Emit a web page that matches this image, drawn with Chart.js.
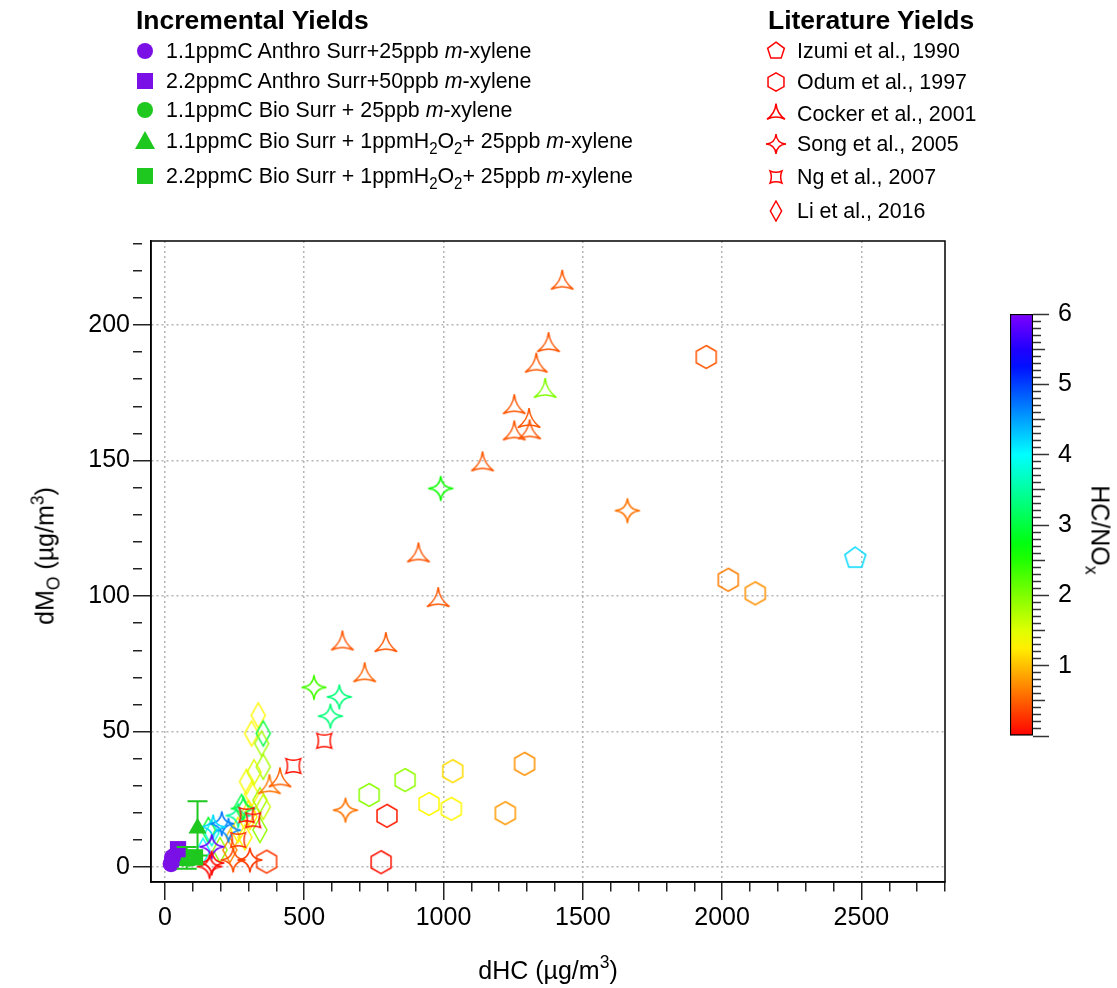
<!DOCTYPE html>
<html>
<head>
<meta charset="utf-8">
<script src="https://cdn.jsdelivr.net/npm/chart.js@4.4.1/dist/chart.umd.min.js"></script>
<style>
  body { margin: 0; width: 1117px; height: 988px; position: relative; overflow: hidden; background: #fff;
         font-family: "Liberation Sans", Arial, Helvetica, sans-serif; color: #000; }
  #main { position: absolute; left: 0; top: 0; }
  #cbar { position: absolute; left: 990px; top: 290px; }
  .lg { position: absolute; white-space: nowrap; font-size: 22.5px; height: 26px; line-height: 26px; }
  .lg canvas { position: absolute; top: 2px; left: 0; }
  .lg span { display: inline-block; margin-left: 32px; transform: scaleX(0.95); transform-origin: 0 50%; }
  .hd { position: absolute; white-space: nowrap; font-size: 26.5px; font-weight: bold; }
  sub { font-size: 0.7em; vertical-align: -0.35em; line-height: 0; }
  sup { font-size: 0.7em; vertical-align: 0.6em; line-height: 0; }
  .ttl { position: absolute; white-space: nowrap; font-size: 25px; }
</style>
</head>
<body>
<canvas id="main" width="1117" height="988"></canvas>
<canvas id="cbar" width="127" height="470"></canvas>

<div class="hd" style="left:136px; top:5px;">Incremental Yields</div>
<div class="lg" style="left:134px; top:38px;"><canvas data-sym="circle" data-col="#7a10e6" width="22" height="22"></canvas><span>1.1ppmC Anthro Surr+25ppb <i>m</i>-xylene</span></div>
<div class="lg" style="left:134px; top:68px;"><canvas data-sym="rect" data-col="#7a10e6" width="22" height="22"></canvas><span>2.2ppmC Anthro Surr+50ppb <i>m</i>-xylene</span></div>
<div class="lg" style="left:134px; top:97px;"><canvas data-sym="circle" data-col="#1ec81e" width="22" height="22"></canvas><span>1.1ppmC Bio Surr + 25ppb <i>m</i>-xylene</span></div>
<div class="lg" style="left:134px; top:128px;"><canvas data-sym="triangle" data-col="#1ec81e" width="22" height="22"></canvas><span>1.1ppmC Bio Surr + 1ppmH<sub>2</sub>O<sub>2</sub>+ 25ppb <i>m</i>-xylene</span></div>
<div class="lg" style="left:134px; top:163px;"><canvas data-sym="rect" data-col="#1ec81e" width="22" height="22"></canvas><span>2.2ppmC Bio Surr + 1ppmH<sub>2</sub>O<sub>2</sub>+ 25ppb <i>m</i>-xylene</span></div>

<div class="hd" style="left:768px; top:5px;">Literature Yields</div>
<div class="lg" style="left:765px; top:38px;"><canvas data-sym="pentagon" width="22" height="22"></canvas><span>Izumi et al., 1990</span></div>
<div class="lg" style="left:765px; top:69px;"><canvas data-sym="hexagon" width="22" height="22"></canvas><span>Odum et al., 1997</span></div>
<div class="lg" style="left:765px; top:101px;"><canvas data-sym="tristar" width="22" height="22"></canvas><span>Cocker et al., 2001</span></div>
<div class="lg" style="left:765px; top:131px;"><canvas data-sym="star4" width="22" height="22"></canvas><span>Song et al., 2005</span></div>
<div class="lg" style="left:765px; top:164px;"><canvas data-sym="cquad" width="22" height="22"></canvas><span>Ng et al., 2007</span></div>
<div class="lg" style="left:765px; top:198px;"><canvas data-sym="diamond" width="22" height="22"></canvas><span>Li et al., 2016</span></div>

<div class="ttl" id="ytitle" style="left:45px; top:556px; transform: translate(-50%,-50%) rotate(-90deg);">dM<sub>O</sub> (µg/m<sup>3</sup>)</div>
<div class="ttl" id="xtitle" style="left:548px; top:970px; transform: translate(-50%,-50%);">dHC (µg/m<sup>3</sup>)</div>
<div class="ttl" id="ctitle" style="left:1100px; top:530px; transform: translate(-50%,-50%) rotate(90deg);">HC/NO<sub>x</sub></div>

<script>
const FONT = '"Liberation Sans", Arial, Helvetica, sans-serif';

// ---- incremental yields (filled symbols) ----
const anthro11X = [22, 27];
const anthro11Y = [1.2, 3.6];
const anthro22X = [47];
const anthro22Y = [6.6];
const bio11X = [65, 88];
const bio11Y = [3.4, 3.3];
const bio11hX = [117];
const bio11hY = [14.3];
const bio11hErr = [10];
const bio22hX = [78, 108];
const bio22hY = [3.4, 3.6];
const bio22hErr = [4, 0];

// ---- literature yields (open symbols, colour = HC/NOx) ----
const izumiX = [2478];
const izumiY = [114];
const izumiR = [4.2];

const odumX = [1943, 2022, 2119, 1291, 1033, 862, 733, 948, 1028, 1222, 797, 776, 365];
const odumY = [188.2, 106, 101, 38.1, 35.4, 32.1, 26.6, 23.3, 21.5, 19.9, 18.9, 1.8, 2.0];
const odumR = [0.45, 0.65, 0.75, 0.75, 1.15, 1.9, 1.95, 1.3, 1.3, 0.8, 0.15, 0.1, 0.3];

const cockerX = [1426, 1377, 1333, 1365, 1254, 1307, 1309, 1254, 1140, 910, 981, 637, 793, 717, 413, 375];
const cockerY = [215.6, 192.6, 185, 175.7, 169.7, 164.6, 160.4, 160, 148.6, 115, 98.5, 82.5, 81.9, 70.8, 32, 29.5];
const cockerR = [0.45, 0.45, 0.45, 2.0, 0.45, 0.45, 0.45, 0.45, 0.45, 0.45, 0.45, 0.45, 0.45, 0.5, 0.5, 0.6];

const songX = [1660, 990, 535, 626, 594, 648, 204, 228, 173, 168, 168, 160, 245, 305, 263, 281];
const songY = [131.5, 139.7, 66.3, 62.8, 55.7, 21, 16, 13.6, 14.8, 7.5, 1.5, 0.2, 2.6, 2.6, 19, 21.6];
const songR = [0.6, 2.6, 2.3, 3.3, 3.3, 0.6, 4.7, 4.6, 4.2, 5.9, 0.05, 0.05, 0.4, 0.3, 3.5, 3.0];

const ngX = [572, 461, 293, 317, 263];
const ngY = [46.6, 37.3, 19.2, 17.3, 10];
const ngR = [0.1, 0.1, 0.1, 0.1, 0.3];

const liX = [335, 311, 353, 347, 353, 293, 311, 341, 353, 275, 305, 341, 156, 168, 245, 198, 233, 262, 287, 137, 320, 300];
const liY = [56, 49.3, 49.3, 45.6, 37, 31.5, 27, 24.7, 22.2, 22.2, 18.5, 13.7, 13.7, 12.5, 11.2, 6.3, 6.3, 13.7, 11, 6, 35, 20];
const liR = [1.3, 1.3, 3.0, 1.8, 1.8, 1.4, 1.3, 1.8, 1.6, 3.0, 1.3, 1.9, 2.8, 3.8, 1.0, 1.9, 0.7, 1.3, 1.3, 4.0, 1.5, 1.2];

// ---- axes / colour scale ----
const xMin = -50, xMax = 2800, xMajor = 500, xMinor = 100;
const yMin = -5.5, yMax = 231, yMajor = 50, yMinor = 10;
const cMin = 0, cMax = 6;

function hcColor(v) {
  const t = Math.max(0, Math.min(1, (v - cMin) / (cMax - cMin)));
  return 'hsl(' + (t * 270).toFixed(1) + ',100%,50%)';
}

const SIZES = { hexagon: 11.5, pentagon: 11, tristar: 13, star4: 12.5, cquad: 10.5, diamond: 12.5 };

function shapePath(ctx, shape, r) {
  ctx.beginPath();
  if (shape === 'hexagon' || shape === 'pentagon') {
    const n = shape === 'hexagon' ? 6 : 5;
    for (let i = 0; i < n; i++) {
      const a = -Math.PI / 2 + i * 2 * Math.PI / n;
      if (i) ctx.lineTo(r * Math.cos(a), r * Math.sin(a));
      else ctx.moveTo(r * Math.cos(a), r * Math.sin(a));
    }
  } else if (shape === 'diamond') {
    ctx.moveTo(0, -r); ctx.lineTo(r * 0.56, 0); ctx.lineTo(0, r); ctx.lineTo(-r * 0.56, 0);
  } else {
    const n = shape === 'tristar' ? 3 : 4;
    const a0 = shape === 'cquad' ? -Math.PI / 4 : -Math.PI / 2;
    const k = shape === 'tristar' ? 0.1 : (shape === 'star4' ? 0.1 : 0.4);
    for (let i = 0; i < n; i++) {
      const a = a0 + i * 2 * Math.PI / n, b = a + Math.PI / n, c = a + 2 * Math.PI / n;
      if (i === 0) ctx.moveTo(r * Math.cos(a), r * Math.sin(a));
      ctx.quadraticCurveTo(k * r * Math.cos(b), k * r * Math.sin(b), r * Math.cos(c), r * Math.sin(c));
    }
  }
  ctx.closePath();
}

const glyphCache = {};
function glyph(shape, color, scale) {
  scale = scale || 1;
  const key = shape + color + scale;
  if (glyphCache[key]) return glyphCache[key];
  const r = SIZES[shape] * scale;
  const s = Math.ceil(r + 3) * 2;
  const cv = document.createElement('canvas');
  cv.width = s; cv.height = s;
  const c = cv.getContext('2d');
  c.translate(s / 2, s / 2);
  shapePath(c, shape, r);
  c.strokeStyle = color;
  c.lineWidth = 1.5;
  c.stroke();
  glyphCache[key] = cv;
  return cv;
}

function pts(xs, ys) { return xs.map((x, i) => ({ x: x, y: ys[i] })); }

function openSeries(label, shape, xs, ys, rs) {
  return {
    label: label, data: pts(xs, ys), pointRadius: 10,
    pointStyle: ctx => glyph(shape, hcColor(rs[ctx.dataIndex])),
    borderColor: 'rgba(0,0,0,0)', backgroundColor: 'rgba(0,0,0,0)'
  };
}

function filledSeries(label, style, radius, color, xs, ys, errs) {
  return {
    label: label, data: pts(xs, ys), pointStyle: style, pointRadius: radius,
    backgroundColor: color, borderColor: color, borderWidth: 0, errY: errs
  };
}

const datasets = [
  filledSeries('1.1ppmC Anthro Surr+25ppb m-xylene', 'circle', 8.5, '#7a10e6', anthro11X, anthro11Y),
  filledSeries('2.2ppmC Anthro Surr+50ppb m-xylene', 'rect', 11.5, '#7a10e6', anthro22X, anthro22Y),
  filledSeries('1.1ppmC Bio Surr + 25ppb m-xylene', 'circle', 8.5, '#1ec81e', bio11X, bio11Y),
  filledSeries('1.1ppmC Bio Surr + 1ppmH2O2+ 25ppb m-xylene', 'triangle', 10.5, '#1ec81e', bio11hX, bio11hY, bio11hErr),
  filledSeries('2.2ppmC Bio Surr + 1ppmH2O2+ 25ppb m-xylene', 'rect', 11.5, '#1ec81e', bio22hX, bio22hY, bio22hErr),
  openSeries('Izumi et al., 1990', 'pentagon', izumiX, izumiY, izumiR),
  openSeries('Ng et al., 2007', 'cquad', ngX, ngY, ngR),
  openSeries('Song et al., 2005', 'star4', songX, songY, songR),
  openSeries('Cocker et al., 2001', 'tristar', cockerX, cockerY, cockerR),
  openSeries('Odum et al., 1997', 'hexagon', odumX, odumY, odumR),
  openSeries('Li et al., 2016', 'diamond', liX, liY, liR)
];

const errorBars = {
  id: 'errorBars',
  afterDatasetsDraw(chart) {
    const { ctx, scales: { x, y } } = chart;
    chart.data.datasets.forEach(ds => {
      if (!ds.errY) return;
      ctx.save();
      ctx.strokeStyle = ds.backgroundColor;
      ctx.lineWidth = 2;
      ds.data.forEach((p, i) => {
        const e = ds.errY[i];
        if (!e) return;
        const px = x.getPixelForValue(p.x);
        const top = y.getPixelForValue(p.y + e), bot = y.getPixelForValue(p.y - e);
        ctx.beginPath();
        ctx.moveTo(px, top); ctx.lineTo(px, bot);
        ctx.moveTo(px - 10, top); ctx.lineTo(px + 10, top);
        ctx.moveTo(px - 10, bot); ctx.lineTo(px + 10, bot);
        ctx.stroke();
      });
      ctx.restore();
    });
  }
};

const frame = {
  id: 'frame',
  afterDraw(chart) {
    const { ctx, chartArea: a } = chart;
    ctx.save();
    ctx.strokeStyle = '#000';
    ctx.lineWidth = 1.5;
    ctx.strokeRect(a.left, a.top, a.right - a.left, a.bottom - a.top);
    ctx.restore();
  }
};

const isMult = (v, m) => Math.abs(v / m - Math.round(v / m)) < 1e-6;

new Chart(document.getElementById('main'), {
  type: 'scatter',
  data: { datasets: datasets },
  options: {
    responsive: false,
    animation: false,
    layout: { padding: { left: 0, top: 241, right: 172, bottom: 46 } },
    plugins: { legend: { display: false }, tooltip: { enabled: false } },
    scales: {
      x: {
        type: 'linear', min: xMin, max: xMax,
        afterFit: s => { s.height = 60; },
        ticks: {
          stepSize: xMinor, autoSkip: false, includeBounds: false, maxRotation: 0, minRotation: 0,
          padding: 3, color: '#000', font: { family: FONT, size: 25 },
          callback: v => isMult(v, xMajor) ? String(v) : ''
        },
        grid: {
          color: ctx => (ctx.tick && isMult(ctx.tick.value, xMajor)) ? '#b4b4b4' : 'rgba(0,0,0,0)',
          lineWidth: 1.5, tickLength: 18, tickColor: '#222', tickWidth: 1.5,
          tickBorderDash: ctx => (ctx.tick && isMult(ctx.tick.value, xMajor)) ? [40, 0] : [9, 60]
        },
        border: { display: true, color: '#000', width: 1.5, dash: [2, 3] }
      },
      y: {
        type: 'linear', min: yMin, max: yMax,
        afterFit: s => { s.width = 151; },
        ticks: {
          stepSize: yMinor, autoSkip: false, includeBounds: false,
          padding: 3, color: '#000', font: { family: FONT, size: 25 },
          callback: v => isMult(v, yMajor) ? String(v) : ''
        },
        grid: {
          color: ctx => (ctx.tick && isMult(ctx.tick.value, yMajor)) ? '#b4b4b4' : 'rgba(0,0,0,0)',
          lineWidth: 1.5, tickLength: 18, tickColor: '#222', tickWidth: 1.5,
          tickBorderDash: ctx => (ctx.tick && isMult(ctx.tick.value, yMajor)) ? [40, 0] : [9, 60]
        },
        border: { display: true, color: '#000', width: 1.5, dash: [2, 3] }
      }
    }
  },
  plugins: [errorBars, frame]
});

// ---- colour bar ----
function barGradient(chart) {
  const y = chart.scales && chart.scales.y;
  if (!y || !chart.chartArea) return '#888';
  const p0 = y.getPixelForValue(cMin), p1 = y.getPixelForValue(cMax);
  if (!isFinite(p0) || !isFinite(p1) || p0 === p1) return '#888';
  const g = chart.ctx.createLinearGradient(0, p0, 0, p1);
  for (let i = 0; i <= 24; i++) {
    const v = cMin + (cMax - cMin) * i / 24;
    g.addColorStop(i / 24, hcColor(v));
  }
  return g;
}

const cbar = new Chart(document.getElementById('cbar'), {
  type: 'bar',
  data: {
    labels: ['HC/NOx'],
    datasets: [{
      data: [[cMin, cMax]],
      backgroundColor: ctx => barGradient(ctx.chart),
      borderColor: '#000', borderWidth: 1.5, borderSkipped: false,
      barPercentage: 1, categoryPercentage: 1
    }]
  },
  options: {
    responsive: false,
    animation: false,
    layout: { padding: { left: 20, top: 23, right: 0, bottom: 19 } },
    plugins: { legend: { display: false }, tooltip: { enabled: false } },
    scales: {
      x: { display: false },
      y: {
        position: 'right', min: cMin, max: cMax,
        afterFit: s => { s.width = 84; },
        ticks: {
          stepSize: 0.1, autoSkip: false, includeBounds: false,
          padding: 9, color: '#000', font: { family: FONT, size: 25 },
          callback: v => (isMult(v, 1) && v > 0) ? String(Math.round(v)) : ''
        },
        grid: {
          drawOnChartArea: false, tickLength: 16, tickColor: '#333', tickWidth: 1.5,
          tickBorderDash: ctx => {
            const v = ctx.tick ? ctx.tick.value : 0;
            if (isMult(v, 1)) return [40, 0];
            if (isMult(v, 0.5)) return [12, 60];
            return [8, 60];
          }
        },
        border: { display: false }
      }
    }
  }
});
cbar.update();

// ---- legend symbols ----
document.querySelectorAll('.lg canvas').forEach(cv => {
  const c = cv.getContext('2d');
  const sym = cv.dataset.sym;
  c.translate(11, 11);
  if (sym === 'circle' || sym === 'rect' || sym === 'triangle') {
    c.fillStyle = cv.dataset.col;
    c.beginPath();
    if (sym === 'circle') c.arc(0, 0, 8, 0, Math.PI * 2);
    else if (sym === 'rect') c.rect(-8, -8, 16, 16);
    else { c.moveTo(0, -10); c.lineTo(10, 8); c.lineTo(-10, 8); c.closePath(); }
    c.fill();
  } else {
    const g = glyph(sym, '#ff0000', 0.8);
    c.drawImage(g, -g.width / 2, -g.height / 2);
  }
});
</script>
</body>
</html>
